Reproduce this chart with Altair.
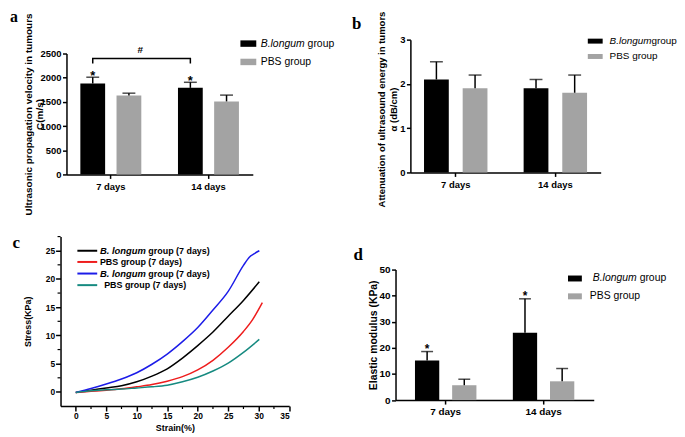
import altair as alt
import pandas as pd

W, H = 675, 429
SANS = "Liberation Sans"
SERIF = "Liberation Serif"

days = ["7 days", "14 days"]
groups = ["B.longum", "PBS"]
group_colors = ["#000000", "#a3a3a3"]

# ---- panel a : ultrasonic propagation velocity (m/s)
a_blongum = [1880, 1790]
a_blongum_up = [2010, 1905]
a_pbs = [1630, 1510]
a_pbs_up = [1680, 1640]
a_ticks = [0, 500, 1000, 1500, 2000, 2500]
a_bracket_y = [2295, 2398, 2398, 2295]

# ---- panel b : attenuation (dB/cm)
b_blongum = [2.1, 1.9]
b_blongum_up = [2.5, 2.1]
b_pbs = [1.9, 1.8]
b_pbs_up = [2.2, 2.2]
b_ticks = [0, 1, 2, 3]

# ---- panel d : elastic modulus (KPa)
d_blongum = [15.2, 25.8]
d_blongum_up = [18.6, 38.8]
d_pbs = [5.7, 7.2]
d_pbs_up = [8.0, 12.1]
d_ticks = [0, 10, 20, 30, 40, 50]

# ---- panel c : stress-strain curves
c_names = ["B. longum group (7 days) black", "PBS group (7 days) red",
           "B. longum group (7 days) blue", "PBS group (7 days) teal"]
c_colors = ["#000000", "#ee1c1c", "#1c1ce8", "#168a80"]
black_strain = [0, 2.5, 5, 7.5, 10, 12.5, 15, 17.5, 20, 22.5, 25, 27.5, 30.1]
black_stress = [-0.1, 0.3, 0.7, 1.1, 1.8, 2.8, 4.1, 6.0, 8.2, 10.6, 13.4, 16.2, 19.5]
red_strain = [0, 2.5, 5, 7.5, 10, 12.5, 15, 17.5, 20, 22.5, 25, 27.5, 29, 30.6]
red_stress = [-0.1, 0.1, 0.3, 0.55, 0.9, 1.3, 1.9, 2.7, 3.9, 5.6, 7.9, 10.7, 12.8, 15.8]
blue_strain = [0, 2.5, 5, 7.5, 10, 12.5, 15, 17.5, 20, 22.5, 25, 27.5, 28.5, 29.3, 30.1]
blue_stress = [-0.1, 0.6, 1.4, 2.3, 3.4, 4.9, 6.7, 8.9, 11.4, 14.5, 17.8, 22.4, 23.9, 24.5, 25.0]
teal_strain = [0, 2.5, 5, 7.5, 10, 12.5, 15, 17.5, 20, 22.5, 25, 27.5, 30.1]
teal_stress = [-0.1, 0.2, 0.4, 0.5, 0.7, 0.9, 1.2, 1.8, 2.6, 3.7, 5.1, 7.0, 9.3]
c_xticks = [0, 5, 10, 15, 20, 25, 30, 35]
c_yticks = [0, 5, 10, 15, 20, 25]
c_xminor = [2.5, 7.5, 12.5, 17.5, 22.5, 27.5, 32.5]
c_yminor = [2.5, 7.5, 12.5, 17.5, 22.5, 27.5]

one = pd.DataFrame({"k": [0]})


def bar_df(bl, bl_up, pb, pb_up):
    rows = []
    for i, d in enumerate(days):
        rows.append({"day": d, "group": groups[0], "mean": bl[i], "up": bl_up[i]})
        rows.append({"day": d, "group": groups[1], "mean": pb[i], "up": pb_up[i]})
    return pd.DataFrame(rows)


def band_params(r0, r1, c0, c1, half, w):
    span = r1 - r0
    step = c1 - c0
    inner = 2 * half
    B = inner + w + 6
    pi = 1 - B / step
    po = (span / step - 2 + pi) / 2
    pi2 = 1 - w / inner
    po2 = (B / inner - 2 + pi2) / 2
    return pi, max(po, 0), pi2, max(po2, 0)


def bar_panel(df, xr, centers, half, w, yr, ydom, yvals, title, title_x, title_y,
              title_size, lab_size, xlab_size, xlab_pad, stars=False, star_dy=2,
              star_size=13, cap=13, bracket=None, line_h=12):
    pi, po, pi2, po2 = band_params(xr[0], xr[1], centers[0], centers[1], half, w)
    xscale = alt.Scale(domain=days, range=list(xr), paddingInner=pi, paddingOuter=po)
    oscale = alt.Scale(domain=groups, paddingInner=pi2, paddingOuter=po2)
    yscale = alt.Scale(domain=ydom, range=list(yr))
    xaxis = alt.Axis(orient="bottom", offset=-(H - yr[0]), title=None, labelAngle=0,
                     labelFont=SANS, labelFontWeight="bold", labelFontSize=xlab_size,
                     labelColor="black", labelPadding=xlab_pad, domainColor="black",
                     domainWidth=1.5, tickColor="black", tickWidth=1.5, tickSize=4,
                     grid=False)
    yaxis = alt.Axis(orient="left", offset=-xr[0], values=yvals, format="d", tickSize=4,
                     tickColor="black", tickWidth=1.5, domainColor="black",
                     domainWidth=1.5, labelFont=SANS, labelFontWeight="bold",
                     labelFontSize=lab_size, labelColor="black", labelPadding=1.5,
                     grid=False, title=title, titleFont=SANS, titleFontWeight="bold",
                     titleFontSize=title_size, titleColor="black", titleAngle=270,
                     titleBaseline="middle", titleAlign="center", titleLineHeight=line_h,
                     titleX=title_x, titleY=title_y)
    X = alt.X("day:N", sort=days, scale=xscale, axis=xaxis)
    XO = alt.XOffset("group:N", sort=groups, scale=oscale)
    base = alt.Chart(df)
    bars = base.mark_bar().encode(
        x=X, xOffset=XO,
        y=alt.Y("mean:Q", scale=yscale, axis=yaxis),
        color=alt.Color("group:N", scale=alt.Scale(domain=groups, range=group_colors),
                        legend=None),
    )
    err = base.mark_rule(color="black", strokeWidth=1.5).encode(
        x=X, xOffset=XO, y=alt.Y("mean:Q", scale=yscale, axis=yaxis), y2="up:Q")
    caps = base.mark_tick(color="black", thickness=1.5, size=cap).encode(
        x=X, xOffset=XO, y=alt.Y("up:Q", scale=yscale, axis=yaxis))
    layers = [bars, err, caps]
    if stars:
        st = base.transform_filter(alt.datum.group == groups[0]).mark_text(
            text="*", font=SANS, fontWeight="bold", fontSize=star_size,
            baseline="alphabetic", dy=star_dy, color="black").encode(
            x=X, xOffset=XO, y=alt.Y("up:Q", scale=yscale, axis=yaxis))
        layers.append(st)
    if bracket is not None:
        brk = pd.DataFrame({"day": ["7 days", "7 days", "14 days", "14 days"],
                            "group": [groups[0]] * 4, "y": bracket, "o": [0, 1, 2, 3]})
        layers.append(alt.Chart(brk).mark_line(color="black", strokeWidth=1.5).encode(
            x=X, xOffset=XO, y=alt.Y("y:Q", scale=yscale, axis=yaxis), order="o:Q"))
    return alt.layer(*layers)


def txt(x, y, s, size=10, weight="normal", style="normal", font=SANS,
        align="left", baseline="middle", color="black"):
    return alt.Chart(one).mark_text(
        text=s, fontSize=size, fontWeight=weight, fontStyle=style, font=font,
        align=align, baseline=baseline, color=color).encode(
        x=alt.value(x), y=alt.value(y))


def box(x0, x1, y0, y1, color):
    return alt.Chart(one).mark_rect(color=color).encode(
        x=alt.value(x0), x2=alt.value(x1), y=alt.value(y0), y2=alt.value(y1))


def seg(x0, x1, y, color, width=2):
    return alt.Chart(one).mark_rule(color=color, strokeWidth=width).encode(
        x=alt.value(x0), x2=alt.value(x1), y=alt.value(y))


# ---------------- panel a
dfa = bar_df(a_blongum, a_blongum_up, a_pbs, a_pbs_up)
panel_a = bar_panel(dfa, (59, 247), (104.5, 203), 18.25, 25, (166, 44), [0, 2500],
                    a_ticks, ["Ultrasonic propagation velocity in tumours", "C(m/s)"],
                    -38, 105, 10, 9.5, 9.5, 3, stars=True, star_dy=3,
                    bracket=a_bracket_y, line_h=11)

# ---------------- panel b
dfb = bar_df(b_blongum, b_blongum_up, b_pbs, b_pbs_up)
panel_b = bar_panel(dfb, (406, 598), (452, 552.5), 19.5, 25, (164, 30), [0, 3],
                    b_ticks, ["Attenuation of ultrasound energy in tumors",
                              "\u03b1 (dB/cm)"], -29, 100, 9.6, 9.5, 9.5, 3)

# ---------------- panel d
dfd = bar_df(d_blongum, d_blongum_up, d_pbs, d_pbs_up)
panel_d = bar_panel(dfd, (391, 591), (442.75, 541.5), 18.75, 24.5, (393.7, 262),
                    [0, 50], d_ticks, "Elastic modulus (KPa)", -22, 327.8, 10.5,
                    10, 10, 3, stars=True, star_dy=1, star_size=12, cap=12)

# ---------------- panel c
rows = []
for name, xs, ys in zip(c_names, [black_strain, red_strain, blue_strain, teal_strain],
                        [black_stress, red_stress, blue_stress, teal_stress]):
    for xv, yv in zip(xs, ys):
        rows.append({"series": name, "strain": xv, "stress": yv})
dfc = pd.DataFrame(rows)
cx0, cx1, cyb, cyt = 53, 283.7, 399.7, 228.7
cxs = alt.Scale(domain=[-2.5, 35], range=[cx0, cx1], nice=False, zero=False)
cys = alt.Scale(domain=[-2.5, 27.5], range=[cyb, cyt], nice=False, zero=False)
cxaxis = alt.Axis(
    orient="bottom", offset=-(H - cyb), values=c_xticks, tickSize=5,
    tickColor="black", tickWidth=1.5, domainColor="black", domainWidth=1.5,
    labelFont=SANS, labelFontWeight="bold", labelFontSize=8.5, labelColor="black",
    labelPadding=1, grid=False, title="Strain(%)", titleFont=SANS,
    titleFontWeight="bold", titleFontSize=9, titleColor="black",
    titleBaseline="middle", titleY=22, titleX=(cx0 + cx1) / 2)
cyaxis = alt.Axis(
    orient="left", offset=-cx0, values=c_yticks, tickSize=5, tickColor="black",
    tickWidth=1.5, domainColor="black", domainWidth=1.5, labelFont=SANS,
    labelFontWeight="bold", labelFontSize=8.5, labelColor="black", labelPadding=1,
    grid=False, title="Stress(KPa)", titleFont=SANS, titleFontWeight="bold",
    titleFontSize=9, titleColor="black", titleAngle=270, titleBaseline="middle",
    titleX=-33, titleY=(cyb + cyt) / 2)
curves = alt.Chart(dfc).mark_line(strokeWidth=1.5, interpolate="monotone").encode(
    x=alt.X("strain:Q", scale=cxs, axis=cxaxis),
    y=alt.Y("stress:Q", scale=cys, axis=cyaxis),
    color=alt.Color("series:N", scale=alt.Scale(domain=c_names, range=c_colors),
                    legend=None),
    detail="series:N",
)
xminor = alt.Chart(pd.DataFrame({"v": c_xminor})).mark_rule(
    color="black", strokeWidth=1.2).encode(
    x=alt.X("v:Q", scale=cxs, axis=cxaxis), y=alt.value(cyb), y2=alt.value(cyb + 3))
yminor = alt.Chart(pd.DataFrame({"v": c_yminor})).mark_rule(
    color="black", strokeWidth=1.2).encode(
    y=alt.Y("v:Q", scale=cys, axis=cyaxis), x=alt.value(cx0), x2=alt.value(cx0 - 3))
panel_c = alt.layer(curves, xminor, yminor)

# ---------------- annotations (panel letters, legends, significance)
ann = [
    txt(2, 12, "a", size=16, weight="bold", font=SERIF, baseline="alphabetic"),
    txt(347, 19, "b", size=17, weight="bold", font=SERIF, baseline="alphabetic"),
    txt(4.5, 240.5, "c", size=17, weight="bold", font=SERIF, baseline="alphabetic"),
    txt(348.5, 252, "d", size=17, weight="bold", font=SERIF, baseline="alphabetic"),
    txt(133.5, 40.5, "#", size=10, weight="bold", align="center"),
    # legend a
    box(234.5, 250.5, 30.75, 37.25, group_colors[0]),
    box(234.5, 250.5, 49.25, 55.75, group_colors[1]),
    txt(255, 34, "B.longum", size=10.5, style="italic"),
    txt(302.3, 34, "group", size=10.5),
    txt(255, 52.5, "PBS group", size=10.5),
    # legend b
    box(585, 600, 29, 34, group_colors[0]),
    box(585, 600, 44.5, 49.5, group_colors[1]),
    txt(607, 31.5, "B.longum", size=10, style="italic"),
    txt(649.2, 31.5, "group", size=10),
    txt(607, 47, "PBS group", size=10),
    # legend d
    box(565, 579, 268, 274, group_colors[0]),
    box(565, 579, 286, 292, group_colors[1]),
    txt(590, 271, "B.longum", size=10.5, style="italic"),
    txt(637.3, 271, "group", size=10.5),
    txt(587, 289, "PBS group", size=10.5),
]
c_rows = [243, 254.3, 266, 277.7]
for yy, col in zip(c_rows, c_colors):
    ann.append(seg(70, 90, yy, col))
ann += [
    txt(92.7, c_rows[0], "B. longum", size=9.5, weight="bold", style="italic"),
    txt(141.6, c_rows[0], "group (7 days)", size=9, weight="bold"),
    txt(92.7, c_rows[1], "PBS group (7 days)", size=9, weight="bold"),
    txt(92.7, c_rows[2], "B. longum", size=9.5, weight="bold", style="italic"),
    txt(141.6, c_rows[2], "group (7 days)", size=9, weight="bold"),
    txt(97, c_rows[3], "PBS group (7 days)", size=9, weight="bold"),
]

chart = alt.layer(panel_a, panel_b, panel_c, panel_d, *ann).resolve_scale(
    x="independent", y="independent", xOffset="independent", color="independent"
).properties(width=W, height=H, padding=0, autosize="none", background="white"
).configure_view(stroke=None)

chart.save("out.html", embed_options={"renderer": "svg", "actions": False})
